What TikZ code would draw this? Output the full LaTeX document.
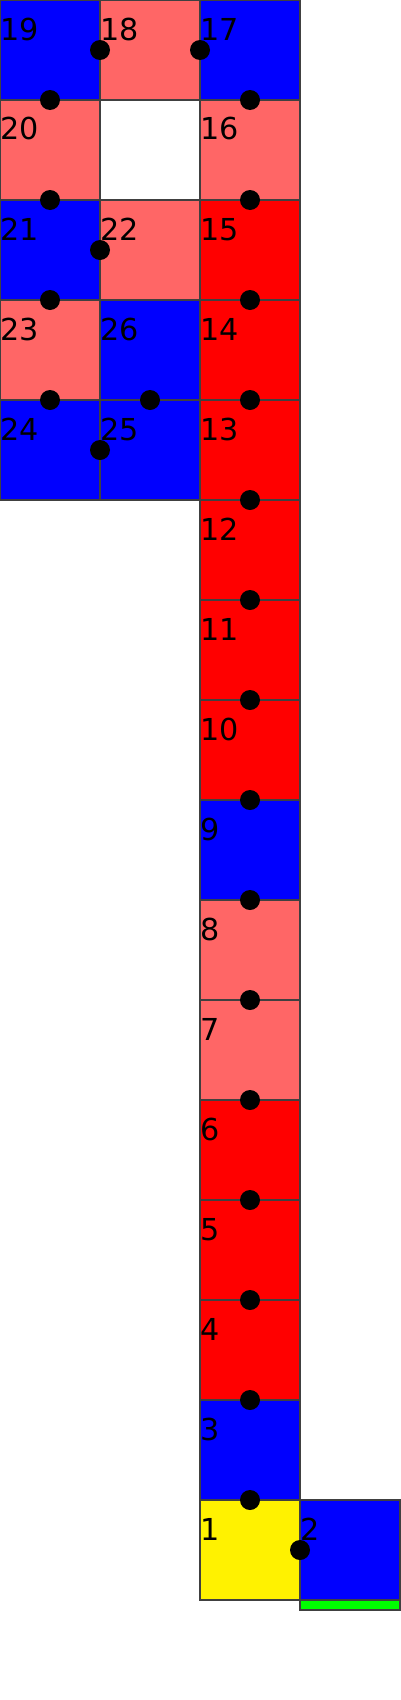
\documentclass[tikz,border=0pt]{standalone}
\usepackage{fontspec}
\setmainfont{DejaVu Sans}
\definecolor{lightred}{HTML}{FF6666}
\tikzset{
  cell/.style={draw=black!75, line width=0.3pt, minimum size=1cm, inner sep=0pt, outer sep=0pt},
  num/.style={anchor=base west, inner sep=0pt, yshift=-0.4cm, font=\fontsize{8.6}{10}\selectfont},
  dot/.style={circle, fill=black, minimum size=0.2cm, inner sep=0pt},
}
\begin{document}
\begin{tikzpicture}[scale=1]
      \useasboundingbox (0,0) rectangle (4,-17);
      % left block
      \node[cell, fill=blue, label={[num]north west:19}] (c19) at (0.5,-0.5) {};
      \node[cell, fill=lightred, label={[num]north west:20}] (c20) at (0.5,-1.5) {};
      \node[cell, fill=blue, label={[num]north west:21}] (c21) at (0.5,-2.5) {};
      \node[cell, fill=lightred, label={[num]north west:23}] (c23) at (0.5,-3.5) {};
      \node[cell, fill=blue, label={[num]north west:24}] (c24) at (0.5,-4.5) {};
      \node[cell, fill=lightred, label={[num]north west:18}] (c18) at (1.5,-0.5) {};
      \node[cell, fill=white] (hole) at (1.5,-1.5) {};
      \node[cell, fill=lightred, label={[num]north west:22}] (c22) at (1.5,-2.5) {};
      \node[cell, fill=blue, label={[num]north west:26}] (c26) at (1.5,-3.5) {};
      \node[cell, fill=blue, label={[num]north west:25}] (c25) at (1.5,-4.5) {};
      % long column
      \node[cell, fill=blue, label={[num]north west:17}] (c17) at (2.5,-0.5) {};
      \node[cell, fill=lightred, label={[num]north west:16}] (c16) at (2.5,-1.5) {};
      \node[cell, fill=red, label={[num]north west:15}] (c15) at (2.5,-2.5) {};
      \node[cell, fill=red, label={[num]north west:14}] (c14) at (2.5,-3.5) {};
      \node[cell, fill=red, label={[num]north west:13}] (c13) at (2.5,-4.5) {};
      \node[cell, fill=red, label={[num]north west:12}] (c12) at (2.5,-5.5) {};
      \node[cell, fill=red, label={[num]north west:11}] (c11) at (2.5,-6.5) {};
      \node[cell, fill=red, label={[num]north west:10}] (c10) at (2.5,-7.5) {};
      \node[cell, fill=blue, label={[num]north west:9}] (c9) at (2.5,-8.5) {};
      \node[cell, fill=lightred, label={[num]north west:8}] (c8) at (2.5,-9.5) {};
      \node[cell, fill=lightred, label={[num]north west:7}] (c7) at (2.5,-10.5) {};
      \node[cell, fill=red, label={[num]north west:6}] (c6) at (2.5,-11.5) {};
      \node[cell, fill=red, label={[num]north west:5}] (c5) at (2.5,-12.5) {};
      \node[cell, fill=red, label={[num]north west:4}] (c4) at (2.5,-13.5) {};
      \node[cell, fill=blue, label={[num]north west:3}] (c3) at (2.5,-14.5) {};
      \node[cell, fill=yellow, label={[num]north west:1}] (c1) at (2.5,-15.5) {};
      \node[cell, fill=blue, label={[num]north west:2}] (c2) at (3.5,-15.5) {};
      \node[cell, fill=green, minimum height=0.1cm, anchor=north] (base) at (c2.south) {};
      % dots
      \node[dot] (d19) at (c19.east) {};
      \node[dot] (d18) at (c18.east) {};
      \node[dot] (d19s) at (c19.south) {};
      \node[dot] (d17) at (c17.south) {};
      \node[dot] (d20) at (c20.south) {};
      \node[dot] (d16) at (c16.south) {};
      \node[dot] (d21) at (c21.east) {};
      \node[dot] (d21s) at (c21.south) {};
      \node[dot] (d15) at (c15.south) {};
      \node[dot] (d23) at (c23.south) {};
      \node[dot] (d26) at (c26.south) {};
      \node[dot] (d14) at (c14.south) {};
      \node[dot] (d24) at (c24.east) {};
      \node[dot] (d13) at (c13.south) {};
      \node[dot] (d12) at (c12.south) {};
      \node[dot] (d11) at (c11.south) {};
      \node[dot] (d10) at (c10.south) {};
      \node[dot] (d9) at (c9.south) {};
      \node[dot] (d8) at (c8.south) {};
      \node[dot] (d7) at (c7.south) {};
      \node[dot] (d6) at (c6.south) {};
      \node[dot] (d5) at (c5.south) {};
      \node[dot] (d4) at (c4.south) {};
      \node[dot] (d3) at (c3.south) {};
      \node[dot] (d1) at (c1.east) {};
    \end{tikzpicture}
\end{document}
